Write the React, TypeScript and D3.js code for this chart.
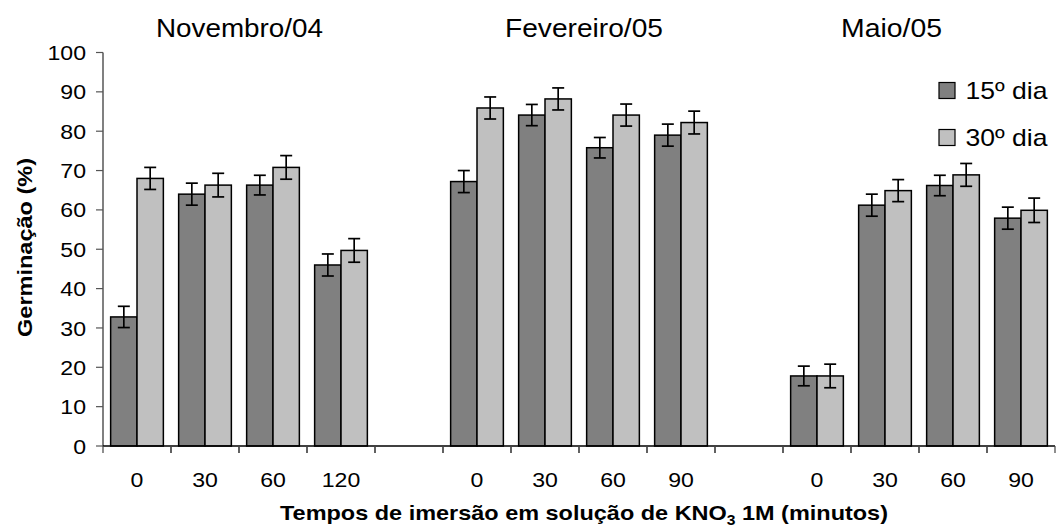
import { useEffect, useRef } from "react";
import * as d3 from "d3";

const periods = ["Novembro/04", "Fevereiro/05", "Maio/05"];
const times = ["0", "30", "60", "120", "", "0", "30", "60", "90", "", "0", "30", "60", "90"];
const series = ["15º dia", "30º dia"];
const day15 = [32.8, 64.0, 66.3, 46.0, null, 67.2, 84.1, 75.8, 79.0, null, 17.8, 61.2, 66.2, 57.9];
const day30 = [68.0, 66.3, 70.8, 49.7, null, 85.9, 88.2, 84.1, 82.2, null, 17.8, 64.9, 68.9, 59.9];
const err15 = [2.7, 2.8, 2.5, 2.8, null, 2.8, 2.7, 2.6, 2.8, null, 2.5, 2.8, 2.6, 2.8];
const err30 = [2.8, 3.0, 3.0, 3.0, null, 2.8, 2.8, 2.8, 2.9, null, 3.0, 2.8, 2.9, 3.1];
const yTicks = [0, 10, 20, 30, 40, 50, 60, 70, 80, 90, 100];

const W = 1056;
const H = 529;
const FONT = "'Liberation Sans', Arial, sans-serif";

export default function App() {
  const svgRef = useRef<SVGSVGElement>(null);

  useEffect(() => {
    const svg = d3.select(svgRef.current);
    svg.selectAll("*").remove();

    const left = 103;
    const right = 1055;
    const bottom = 446;
    const top = 52.5;

    const x = d3
      .scaleBand<number>()
      .domain(times.map((_, i) => i))
      .range([left, right]);
    const x1 = d3
      .scaleBand<string>()
      .domain(series)
      .range([0, x.bandwidth()])
      .paddingOuter(0.29);
    const y = d3.scaleLinear().domain([0, 100]).range([bottom, top]);

    const colors = ["#808080", "#c0c0c0"];
    const values = [day15, day30];
    const errors = [err15, err30];

    // y axis
    svg
      .append("line")
      .attr("x1", left)
      .attr("x2", left)
      .attr("y1", top)
      .attr("y2", bottom)
      .attr("stroke", "#808080")
      .attr("stroke-width", 2);

    yTicks.forEach((t) => {
      svg
        .append("line")
        .attr("x1", left - 7)
        .attr("x2", left)
        .attr("y1", y(t))
        .attr("y2", y(t))
        .attr("stroke", "#555")
        .attr("stroke-width", 1.2);
      svg
        .append("text")
        .attr("transform", `translate(86, ${y(t)}) scale(1.1, 1)`)
        .attr("text-anchor", "end")
        .attr("dy", "0.36em")
        .attr("font-family", FONT)
        .attr("font-size", 21)
        .attr("fill", "#000")
        .text(t);
    });

    // bars
    series.forEach((s, si) => {
      values[si].forEach((v, i) => {
        if (v == null) return;
        svg
          .append("rect")
          .attr("x", x(i)! + x1(s)!)
          .attr("y", y(v))
          .attr("width", x1.bandwidth())
          .attr("height", bottom - y(v))
          .attr("fill", colors[si])
          .attr("stroke", "#000")
          .attr("stroke-width", 1.5);
      });
    });

    // error bars
    series.forEach((s, si) => {
      values[si].forEach((v, i) => {
        const e = errors[si][i];
        if (v == null || e == null) return;
        const cx = x(i)! + x1(s)! + x1.bandwidth() / 2;
        const g = svg.append("g").attr("stroke", "#000").attr("stroke-width", 1.7);
        g.append("line").attr("x1", cx).attr("x2", cx).attr("y1", y(v - e)).attr("y2", y(v + e));
        g.append("line").attr("x1", cx - 6).attr("x2", cx + 6).attr("y1", y(v - e)).attr("y2", y(v - e));
        g.append("line").attr("x1", cx - 6).attr("x2", cx + 6).attr("y1", y(v + e)).attr("y2", y(v + e));
      });
    });

    // x axis
    svg
      .append("line")
      .attr("x1", left)
      .attr("x2", right)
      .attr("y1", bottom)
      .attr("y2", bottom)
      .attr("stroke", "#000")
      .attr("stroke-width", 1.3);

    times.forEach((t, i) => {
      [x(i)!, x(i)! + x.bandwidth()].forEach((tx) => {
        svg
          .append("line")
          .attr("x1", tx)
          .attr("x2", tx)
          .attr("y1", bottom)
          .attr("y2", bottom + 7)
          .attr("stroke", "#444")
          .attr("stroke-width", 1.2);
      });
      svg
        .append("text")
        .attr("transform", `translate(${x(i)! + x.bandwidth() / 2}, 487) scale(1.1, 1)`)
        .attr("text-anchor", "middle")
        .attr("font-family", FONT)
        .attr("font-size", 21)
        .attr("fill", "#000")
        .text(t);
    });

    // period titles
    const titleBoxes = [
      [156, 167],
      [505, 158],
      [841, 101],
    ];
    periods.forEach((p, i) => {
      svg
        .append("text")
        .attr("x", titleBoxes[i][0])
        .attr("y", 36.7)
        .attr("textLength", titleBoxes[i][1])
        .attr("lengthAdjust", "spacingAndGlyphs")
        .attr("font-family", FONT)
        .attr("font-size", 26)
        .attr("fill", "#000")
        .text(p);
    });

    // legend
    series.forEach((s, si) => {
      const ly = [82.5, 129.5][si];
      svg
        .append("rect")
        .attr("x", 939)
        .attr("y", ly)
        .attr("width", 16)
        .attr("height", 16)
        .attr("fill", colors[si])
        .attr("stroke", "#000")
        .attr("stroke-width", 1.2);
      svg
        .append("text")
        .attr("x", 965.5)
        .attr("y", ly + 16)
        .attr("textLength", 82)
        .attr("lengthAdjust", "spacingAndGlyphs")
        .attr("font-family", FONT)
        .attr("font-size", 24)
        .attr("fill", "#000")
        .text(s);
    });

    // axis titles
    svg
      .append("text")
      .attr("transform", "translate(32, 247.5) rotate(-90)")
      .attr("text-anchor", "middle")
      .attr("textLength", 179)
      .attr("lengthAdjust", "spacingAndGlyphs")
      .attr("font-family", FONT)
      .attr("font-size", 20)
      .attr("font-weight", "bold")
      .attr("fill", "#000")
      .text("Germinação (%)");

    const xt = svg
      .append("text")
      .attr("x", 280)
      .attr("y", 520)
      .attr("textLength", 608)
      .attr("lengthAdjust", "spacingAndGlyphs")
      .attr("font-family", FONT)
      .attr("font-size", 21)
      .attr("font-weight", "bold")
      .attr("fill", "#000");
    xt.append("tspan").text("Tempos de imersão em solução de KNO");
    xt.append("tspan").attr("dy", 5).attr("font-size", 14).text("3");
    xt.append("tspan").attr("dy", -5).text(" 1M (minutos)");
  }, []);

  return (
    <svg
      ref={svgRef}
      width={W}
      height={H}
      style={{ position: "absolute", left: 0, top: 0, background: "#fff" }}
    ></svg>
  );
}
